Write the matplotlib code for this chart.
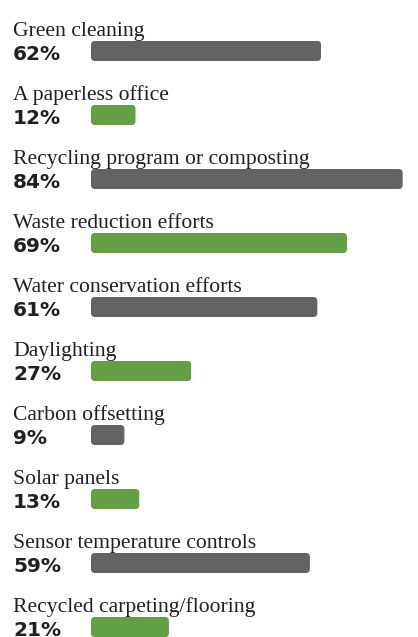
import matplotlib.pyplot as plt
from matplotlib.patches import FancyBboxPatch

# survey results, top to bottom
practices = ["Green cleaning", "A paperless office",
             "Recycling program or composting", "Waste reduction efforts",
             "Water conservation efforts", "Daylighting", "Carbon offsetting",
             "Solar panels", "Sensor temperature controls",
             "Recycled carpeting/flooring"]
percent = [62, 12, 84, 69, 61, 27, 9, 13, 59, 21]
bar_colors = ["#636365", "#639f45", "#636365", "#639f45", "#636365",
              "#639f45", "#636365", "#639f45", "#636365", "#639f45"]

TEXT = "#231f20"
W, H, DPI = 418, 637, 100
X0 = 91          # pixel where a bar starts
PX_PER_PCT = 3.71
ROW_PX = 64
FIRST_ROW = 51

fig = plt.figure(figsize=(W / DPI, H / DPI), dpi=DPI)
ax = fig.add_axes([0, 0, 1, 1])
ax.set_xlim(-X0 / PX_PER_PCT, (W - X0) / PX_PER_PCT)
ax.set_ylim((H - FIRST_ROW) / ROW_PX, -FIRST_ROW / ROW_PX)
ax.axis("off")

bar_h = 20 / ROW_PX
radius = 4 / PX_PER_PCT
label_x = -(X0 - 13) / PX_PER_PCT

for i, (name, val, col) in enumerate(zip(practices, percent, bar_colors)):
    box = FancyBboxPatch((radius, i - bar_h / 2 + radius * PX_PER_PCT / ROW_PX),
                         val - 2 * radius,
                         bar_h - 2 * radius * PX_PER_PCT / ROW_PX,
                         boxstyle=f"round,pad={radius},rounding_size={radius}",
                         mutation_aspect=PX_PER_PCT / ROW_PX,
                         facecolor=col, edgecolor="none")
    ax.add_patch(box)
    ax.text(label_x, i - 15 / ROW_PX, name, family="Liberation Serif",
            fontsize=15.6, color=TEXT, va="baseline", ha="left")
    ax.text(label_x, i + 8.5 / ROW_PX, f"{val}%", family="DejaVu Sans",
            fontweight="bold", fontsize=14.5, color=TEXT,
            va="baseline", ha="left")

fig.savefig("out.png", dpi=DPI)
